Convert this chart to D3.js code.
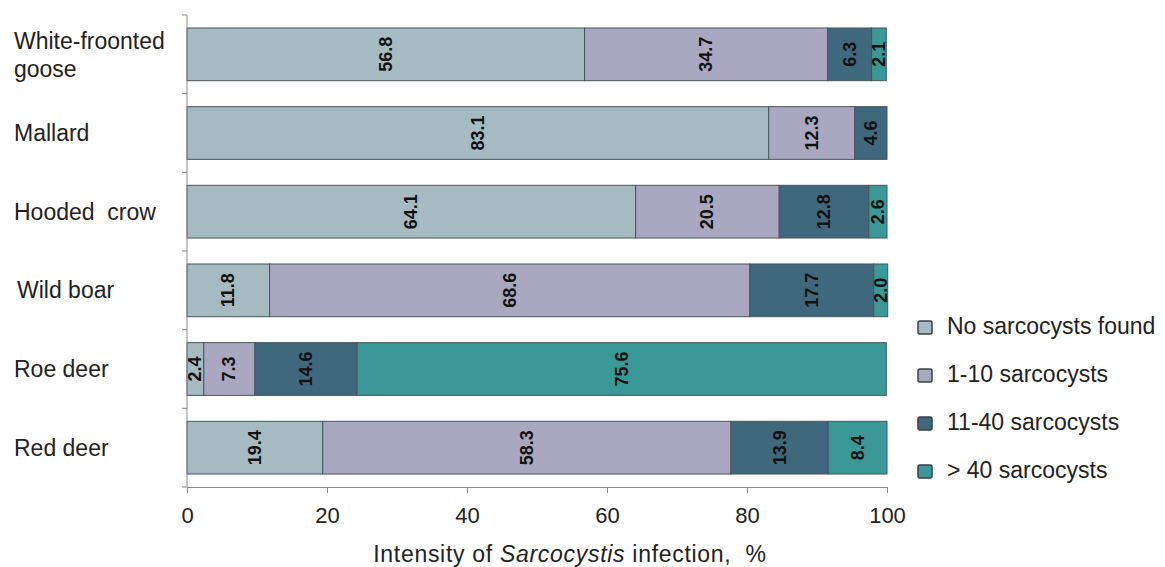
<!DOCTYPE html>
<html>
<head>
<meta charset="utf-8">
<script src="https://cdn.jsdelivr.net/npm/d3@7"></script>
<style>
  body { margin: 0; background: #fff; }
  text { font-family: Arial, "Liberation Sans", sans-serif; fill: #222; white-space: pre; }
</style>
</head>
<body>
<div id="chart"></div>
<script>
// Data
const categories = ["White-froonted goose", "Mallard", "Hooded  crow", "Wild boar", "Roe deer", "Red deer"];
const noneFound = [56.8, 83.1, 64.1, 11.8, 2.4, 19.4];
const low = [34.7, 12.3, 20.5, 68.6, 7.3, 58.3];
const mid = [6.3, 4.6, 12.8, 17.7, 14.6, 13.9];
const high = [2.1, 0, 2.6, 2.0, 75.6, 8.4];
const seriesNames = ["No sarcocysts found", "1-10 sarcocysts", "11-40 sarcocysts", "> 40 sarcocysts"];
const xTicks = [0, 20, 40, 60, 80, 100];

const colors = ["#a6bbc1", "#a9a8c0", "#3f687d", "#3a9996"];

const W = 1165, H = 567;
const margin = { top: 15, right: 278, bottom: 80, left: 187 };
const width = W - margin.left - margin.right;
const height = H - margin.top - margin.bottom;

const svg = d3.select("#chart").append("svg")
    .attr("width", W)
    .attr("height", H);

const g = svg.append("g")
    .attr("transform", `translate(${margin.left},${margin.top})`);

const x = d3.scaleLinear().domain([0, 100]).range([0, width]);
const y = d3.scaleBand().domain(categories).range([0, height]).paddingInner(0.33).paddingOuter(0.165);

// build the stacked table
const table = categories.map((c, i) => ({ cat: c, vals: [noneFound[i], low[i], mid[i], high[i]] }));

// bars
table.forEach(row => {
    let acc = 0;
    row.vals.forEach((v, k) => {
        if (v <= 0) return;
        const x0 = acc, x1 = acc + v;
        acc = x1;
        g.append("rect")
            .attr("x", x(x0))
            .attr("y", y(row.cat))
            .attr("width", x(x1) - x(x0))
            .attr("height", y.bandwidth())
            .attr("fill", colors[k])
            .attr("stroke", "#46555c")
            .attr("stroke-width", 1);

        const cx = x((x0 + x1) / 2), cy = y(row.cat) + y.bandwidth() / 2;
        g.append("text")
            .attr("transform", `translate(${cx + 6},${cy}) rotate(-90)`)
            .attr("text-anchor", "middle")
            .style("font-size", "18px")
            .style("font-weight", "bold")
            .style("fill", "#111")
            .text(v.toFixed(1));
    });
});

// x axis
const xAxis = g.append("g")
    .attr("transform", `translate(0,${height})`)
    .call(d3.axisBottom(x).tickValues(xTicks).tickSize(6).tickSizeOuter(0).tickPadding(14));
xAxis.selectAll("path, line").style("stroke", "#8a8a8a");
xAxis.selectAll("text").style("font-size", "22px").style("fill", "#222").attr("font-family", null);

// y axis: ticks at band boundaries
const bounds = d3.range(categories.length + 1).map(i => i * height / categories.length);
g.append("line")
    .attr("x1", 0).attr("x2", 0).attr("y1", 0).attr("y2", height)
    .style("stroke", "#8a8a8a");
g.selectAll(".ytick").data(bounds).join("line")
    .attr("class", "ytick")
    .attr("x1", -5).attr("x2", 0)
    .attr("y1", d => d).attr("y2", d => d)
    .style("stroke", "#8a8a8a");

// category labels
categories.forEach(c => {
    const cy = y(c) + y.bandwidth() / 2;
    const t = svg.append("text")
        .attr("x", 14)
        .style("font-size", "23px");
    if (c === "White-froonted goose") {
        t.append("tspan").attr("x", 14).attr("y", margin.top + cy - 5).text("White-froonted");
        t.append("tspan").attr("x", 14).attr("y", margin.top + cy + 23).text("goose");
    } else {
        t.attr("x", c === "Wild boar" ? 17 : 14).attr("y", margin.top + cy + 8).text(c);
    }
});

// axis title
const title = svg.append("text")
    .attr("x", 570)
    .attr("y", 562)
    .attr("text-anchor", "middle")
    .style("font-size", "23px")
    .style("letter-spacing", "0.7px");
title.append("tspan").text("Intensity of ");
title.append("tspan").style("font-style", "italic").text("Sarcocystis");
title.append("tspan").text(" infection,  %");

// legend
const legend = svg.append("g").attr("transform", "translate(918,321)");
seriesNames.forEach((name, i) => {
    legend.append("rect")
        .attr("x", 0).attr("y", i * 48)
        .attr("width", 14).attr("height", 13)
        .attr("rx", 2)
        .attr("fill", colors[i])
        .attr("stroke", "#3a3f44")
        .attr("stroke-width", 1.5);
    legend.append("text")
        .attr("x", 29).attr("y", i * 48 + 13)
        .style("font-size", "23px")
        .text(name);
});
</script>
</body>
</html>
